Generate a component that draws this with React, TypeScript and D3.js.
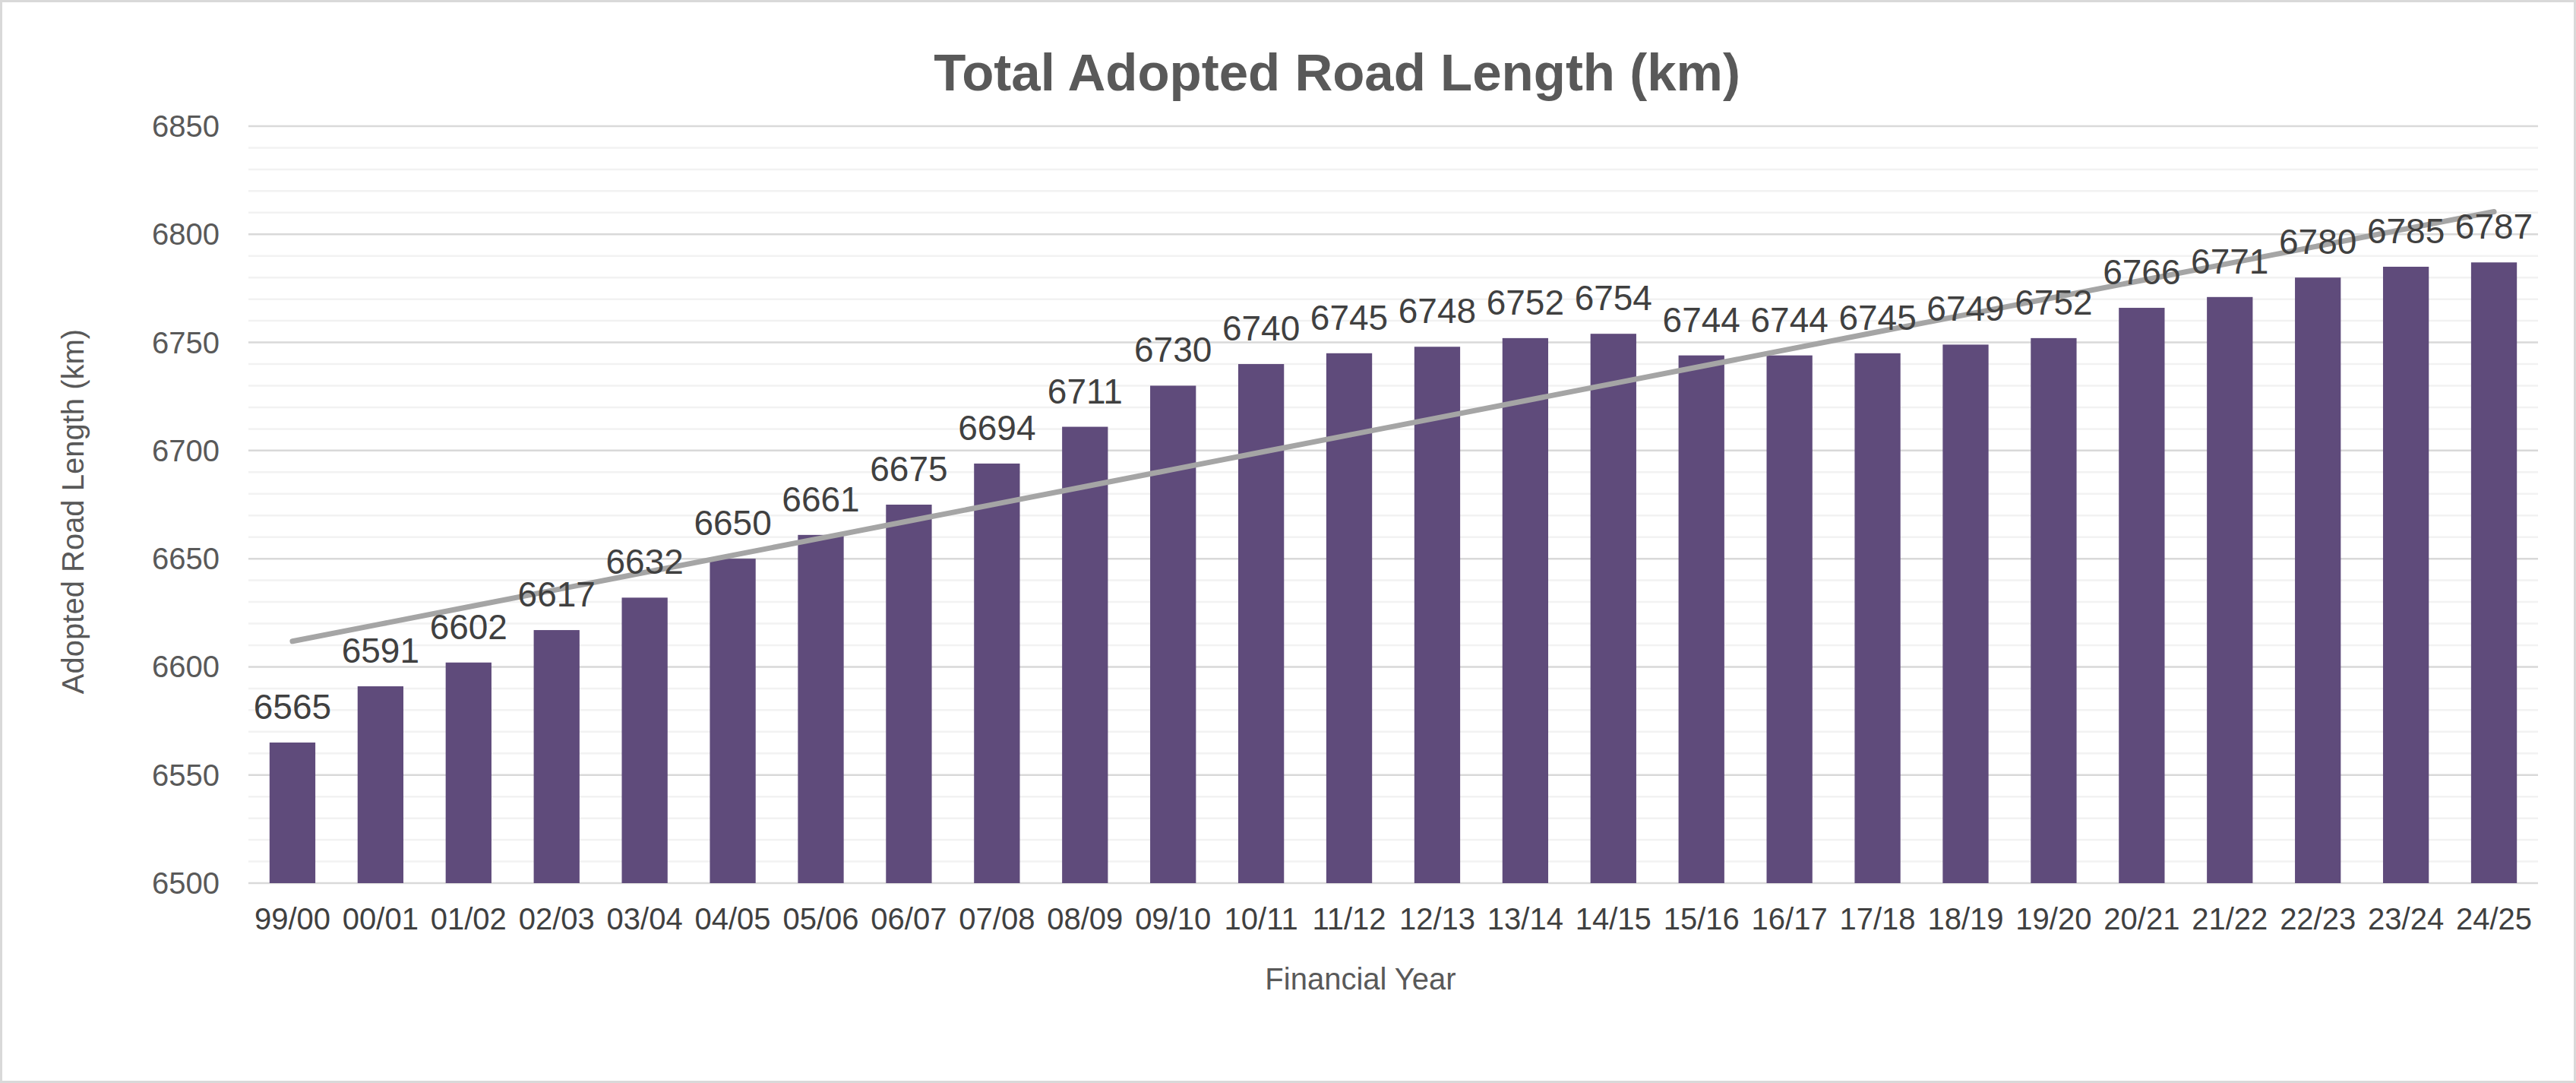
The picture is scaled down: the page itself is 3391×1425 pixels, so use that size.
import { useEffect } from 'react';
import * as d3 from 'd3';

const years = [
  '99/00', '00/01', '01/02', '02/03', '03/04', '04/05', '05/06', '06/07', '07/08',
  '08/09', '09/10', '10/11', '11/12', '12/13', '13/14', '14/15', '15/16', '16/17',
  '17/18', '18/19', '19/20', '20/21', '21/22', '22/23', '23/24', '24/25',
];

const roadLength = [
  6565, 6591, 6602, 6617, 6632, 6650, 6661, 6675, 6694, 6711, 6730, 6740, 6745,
  6748, 6752, 6754, 6744, 6744, 6745, 6749, 6752, 6766, 6771, 6780, 6785, 6787,
];

const majorTicks = [6500, 6550, 6600, 6650, 6700, 6750, 6800, 6850];

const W = 3391;
const H = 1425;
const FONT = '"Liberation Sans", Arial, sans-serif';

export default function App() {
  useEffect(() => {
    document.body.style.margin = '0';
  }, []);

  const x = d3.scaleBand<string>()
    .domain(years)
    .range([327, 3341])
    .paddingInner(0.48)
    .paddingOuter(0.24);

  const y = d3.scaleLinear().domain([6500, 6850]).range([1162, 166]);

  const minorTicks = d3.range(6500, 6851, 10).filter(v => v % 50 !== 0);

  // linear trendline (least squares on category index)
  const idx = years.map((_, i) => i);
  const mx = d3.mean(idx) as number;
  const my = d3.mean(roadLength) as number;
  const slope =
    d3.sum(idx, i => (i - mx) * (roadLength[i] - my)) /
    d3.sum(idx, i => (i - mx) * (i - mx));
  const intercept = my - slope * mx;
  const cx = (i: number) => (x(years[i]) as number) + x.bandwidth() / 2;
  const trend = d3.line<number>()
    .x(i => cx(i))
    .y(i => y(intercept + slope * i));

  const [x0, x1] = x.range();

  return (
    <svg
      width={W}
      height={H}
      viewBox={`0 0 ${W} ${H}`}
      style={{ display: 'block', position: 'absolute', left: 0, top: 0 }}
      fontFamily={FONT}
    >
      <rect x={1.5} y={1.5} width={W - 3} height={H - 3} fill="#fff" stroke="#d9d9d9" strokeWidth={3} />

      <text x={1760} y={119} textAnchor="middle" fontSize={69} fontWeight="bold" fill="#595959">
        Total Adopted Road Length (km)
      </text>

      {/* minor gridlines */}
      {minorTicks.map(t => (
        <line key={'m' + t} x1={x0} x2={x1} y1={y(t)} y2={y(t)} stroke="#f2f2f2" strokeWidth={2.5} />
      ))}
      {/* major gridlines */}
      {majorTicks.map(t => (
        <line key={'g' + t} x1={x0} x2={x1} y1={y(t)} y2={y(t)} stroke="#d9d9d9" strokeWidth={2.5} />
      ))}

      {/* y tick labels */}
      {majorTicks.map(t => (
        <text key={'t' + t} x={289} y={y(t) + 14} textAnchor="end" fontSize={40} fill="#595959">
          {t}
        </text>
      ))}

      {/* bars */}
      {roadLength.map((v, i) => (
        <rect
          key={years[i]}
          x={x(years[i])}
          y={y(v)}
          width={x.bandwidth()}
          height={y(6500) - y(v)}
          fill="#5f4b7b"
        />
      ))}

      {/* trendline */}
      <path d={trend(idx) ?? ''} fill="none" stroke="#a5a5a5" strokeWidth={7} strokeLinecap="round" />

      {/* data labels */}
      {roadLength.map((v, i) => (
        <text key={'d' + i} x={cx(i)} y={y(v) - 31} textAnchor="middle" fontSize={46} fill="#404040">
          {v}
        </text>
      ))}

      {/* x tick labels */}
      {years.map((c, i) => (
        <text key={'x' + c} x={cx(i)} y={1223} textAnchor="middle" fontSize={40} fill="#404040">
          {c}
        </text>
      ))}

      <text x={1791} y={1302} textAnchor="middle" fontSize={40} fill="#595959">
        Financial Year
      </text>
      <text
        transform="translate(110,673) rotate(-90)"
        textAnchor="middle"
        fontSize={40}
        fill="#595959"
      >
        Adopted Road Length (km)
      </text>
    </svg>
  );
}
